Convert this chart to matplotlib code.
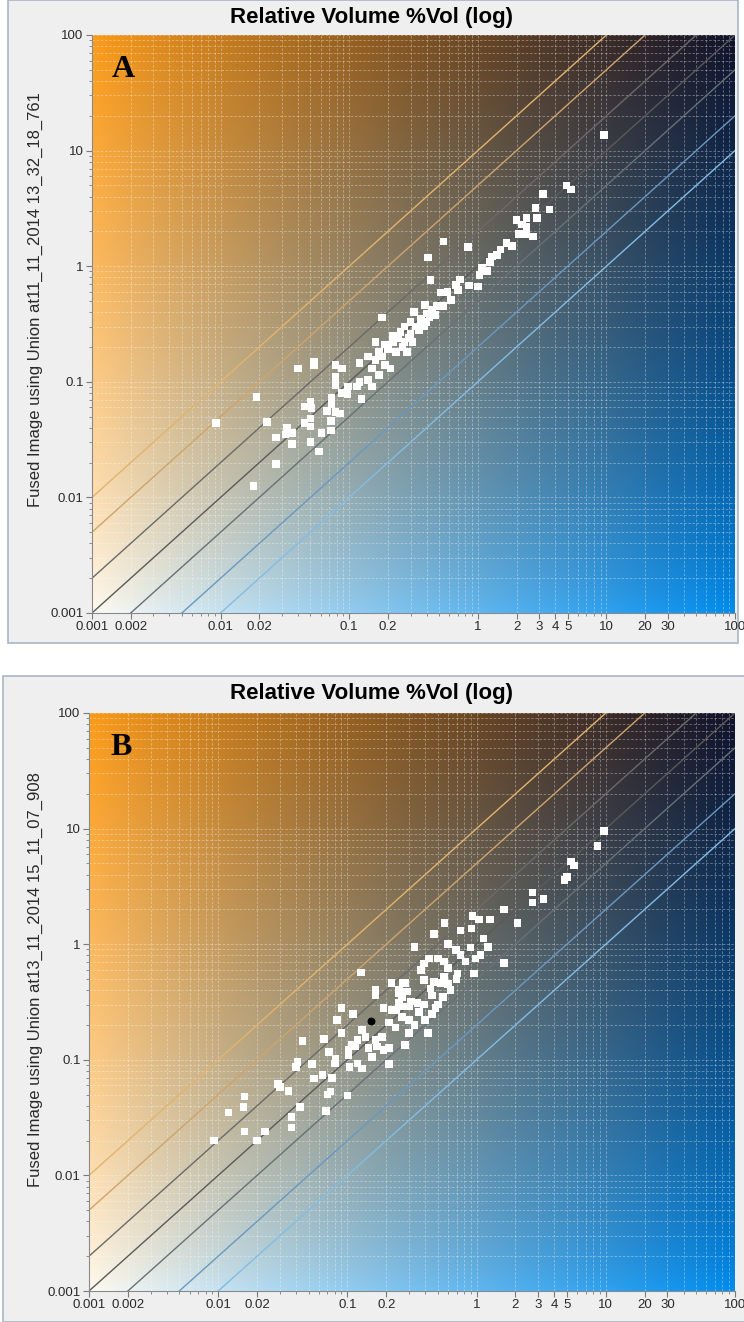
import numpy as np
import matplotlib
matplotlib.use("Agg")
import matplotlib.pyplot as plt
from matplotlib.patches import Rectangle
from matplotlib.ticker import FixedLocator, NullFormatter, FixedFormatter

plt.rcParams['font.family'] = ['Liberation Sans', 'DejaVu Sans']

# Data
ratios = [10, 5, 2, 1, 0.5, 0.2, 0.1]
ratio_colors = ['#e2b46e', '#cfa46c', '#6a6a6a', '#5a5a5a', '#687078', '#6a98c0', '#84bce4']

top_x = [0.18, 0.27, 0.24, 0.27, 0.22, 0.29, 0.16, 0.053, 0.053, 0.040, 0.078, 0.088, 0.12,
         0.14, 0.16, 0.18, 0.19, 0.15, 0.17, 0.21, 0.078, 0.078, 0.098, 0.12, 0.115, 0.14,
         0.15, 0.088, 0.097, 0.125, 0.073, 0.019, 0.050, 0.045, 0.051, 0.073, 0.067, 0.078,
         0.085, 0.050, 0.045, 0.050, 0.072, 0.0092, 0.023, 0.033, 0.036, 0.032, 0.061, 0.072,
         0.027, 0.036, 0.050, 0.058, 0.027, 0.018,
         9.6, 4.9, 5.3, 3.2, 2.8, 3.6, 2.9, 2.0, 2.4, 2.2, 2.4, 2.1, 2.4, 2.7, 0.54, 0.84, 0.41,
         1.5, 1.67, 1.85, 1.29, 1.41, 1.25, 1.08, 1.18, 1.03, 0.43, 0.73, 0.68, 0.70, 0.85, 1.0,
         0.52, 0.58, 0.62, 0.39, 0.48, 0.54, 0.32, 0.40, 0.47,
         0.30, 0.33, 0.36, 0.35, 0.40, 0.30, 0.25, 0.22, 0.26, 0.20, 0.23, 0.31, 0.38, 0.42,
         0.44, 0.28, 0.19, 0.17]
top_y = [0.36, 0.30, 0.24, 0.22, 0.22, 0.24, 0.22, 0.15, 0.14, 0.13, 0.14, 0.13, 0.145,
         0.165, 0.155, 0.165, 0.14, 0.13, 0.115, 0.13, 0.11, 0.094, 0.091, 0.10, 0.091, 0.104,
         0.091, 0.080, 0.078, 0.071, 0.072, 0.074, 0.067, 0.061, 0.059, 0.064, 0.056, 0.055,
         0.053, 0.048, 0.044, 0.041, 0.046, 0.044, 0.045, 0.040, 0.036, 0.035, 0.036, 0.038,
         0.033, 0.029, 0.030, 0.025, 0.0195, 0.0126,
         13.6, 5.0, 4.6, 4.2, 3.2, 3.1, 2.6, 2.5, 2.6, 2.3, 2.2, 1.9, 1.9, 1.8, 1.63, 1.46, 1.19,
         1.4, 1.58, 1.5, 1.21, 1.25, 1.09, 0.96, 0.91, 0.84, 0.76, 0.77, 0.69, 0.62, 0.68, 0.67,
         0.59, 0.60, 0.51, 0.46, 0.45, 0.45, 0.40, 0.39, 0.38,
         0.33, 0.30, 0.35, 0.28, 0.33, 0.26, 0.27, 0.25, 0.20, 0.19, 0.18, 0.22, 0.30, 0.36,
         0.42, 0.18, 0.21, 0.18]

bot_x = [0.128, 0.165, 0.165, 0.22, 0.25, 0.28, 0.265, 0.30, 0.24, 0.22, 0.265, 0.236, 0.21,
         0.19, 0.30, 0.090, 0.11, 0.083, 0.090, 0.045, 0.066, 0.13, 0.138, 0.12, 0.109, 0.102,
         0.115, 0.165, 0.186, 0.17, 0.146, 0.155, 0.21, 0.19, 0.28, 0.072, 0.081, 0.080, 0.102,
         0.041, 0.040, 0.053, 0.104, 0.12, 0.13, 0.21, 0.055, 0.064, 0.076, 0.029, 0.030, 0.035,
         0.074, 0.070, 0.10, 0.016, 0.0157, 0.012, 0.043, 0.068, 0.037, 0.037, 0.016, 0.023,
         0.020, 0.0093,
         9.7, 8.6, 5.4, 5.7, 5.0, 4.8, 2.7, 2.7, 3.3, 1.63, 1.27, 0.93, 1.04, 2.07, 0.565, 0.91,
         0.75, 0.47, 1.13, 0.60, 1.22, 0.33, 0.90, 0.69, 0.75, 1.07, 0.98, 0.82, 1.63, 0.39,
         0.50, 0.56, 0.43, 0.37, 0.60, 0.71, 0.95, 0.56, 0.39, 0.47, 0.44, 0.53, 0.27, 0.29,
         0.25, 0.63, 0.45, 0.31, 0.35, 0.39, 0.25, 0.265,
         0.45, 0.40, 0.33, 0.50, 0.36, 0.42, 0.30, 0.55, 0.48, 0.60, 0.70]
bot_y = [0.57, 0.40, 0.36, 0.46, 0.40, 0.46, 0.35, 0.29, 0.27, 0.27, 0.235, 0.19, 0.21,
         0.28, 0.22, 0.28, 0.25, 0.22, 0.17, 0.146, 0.152, 0.18, 0.158, 0.148, 0.134, 0.122,
         0.13, 0.148, 0.158, 0.13, 0.126, 0.106, 0.126, 0.122, 0.134, 0.117, 0.103, 0.093, 0.11,
         0.096, 0.087, 0.092, 0.087, 0.093, 0.084, 0.092, 0.069, 0.074, 0.070, 0.062, 0.058,
         0.054, 0.053, 0.050, 0.049, 0.048, 0.039, 0.035, 0.039, 0.036, 0.032, 0.026, 0.024,
         0.024, 0.020, 0.020,
         9.5, 7.1, 5.2, 4.8, 3.8, 3.6, 2.8, 2.3, 2.45, 2.0, 1.64, 1.75, 1.64, 1.52, 1.52, 1.37,
         1.31, 1.22, 1.12, 1.0, 0.95, 0.95, 0.94, 0.89, 0.81, 0.81, 0.755, 0.71, 0.69, 0.68,
         0.755, 0.71, 0.755, 0.60, 0.62, 0.56, 0.56, 0.52, 0.49, 0.47, 0.415, 0.46, 0.46, 0.39,
         0.375, 0.40, 0.36, 0.32, 0.31, 0.30, 0.31, 0.29,
         0.25, 0.22, 0.20, 0.30, 0.26, 0.17, 0.17, 0.35, 0.28, 0.45, 0.50]

marked_x = [0.153]
marked_y = [0.218]

x_tick_vals = [0.001, 0.002, 0.01, 0.02, 0.1, 0.2, 1, 2, 3, 4, 5, 10, 20, 30, 100]
x_tick_text = ['0.001', '0.002', '0.01', '0.02', '0.1', '0.2', '1', '2', '3', '4', '5',
               '10', '20', '30', '100']
y_tick_vals = [0.001, 0.01, 0.1, 1, 10, 100]
y_tick_text = ['0.001', '0.01', '0.1', '1', '10', '100']

title = 'Relative Volume %Vol (log)'
top_ylabel = 'Fused Image using Union at11_11_2014 13_32_18_761'
bot_ylabel = 'Fused Image using Union at13_11_2014 15_11_07_908'

W, H = 744, 1322
fig = plt.figure(figsize=(W / 100, H / 100), dpi=100)
fig.patch.set_facecolor('white')

# screenshot-like gray panels
fig.patches.append(Rectangle((8 / W, 1 - 643 / H), 730 / W, 643 / H, transform=fig.transFigure,
                             facecolor='#efefef', edgecolor='#a9b6c8', lw=1.2, zorder=-5))
fig.patches.append(Rectangle((3 / W, 0), 745 / W, 1 - 676 / H, transform=fig.transFigure,
                             facecolor='#efefef', edgecolor='#a9b6c8', lw=1.2, zorder=-5))

# four-corner gradient for the plot background
tl = np.array([252, 155, 25]) / 255
tr = np.array([16, 18, 42]) / 255
bl = np.array([255, 252, 244]) / 255
br = np.array([0, 142, 240]) / 255
n = 300
u = np.linspace(0, 1, n)[None, :, None] ** 0.92
v = np.linspace(1, 0, n)[:, None, None] ** 0.75
grad = (1 - u) * (1 - v) * bl + u * (1 - v) * br + (1 - u) * v * tl + u * v * tr

minor_vals = [m * 10.0 ** e for e in range(-3, 2) for m in range(2, 10)]


def draw_panel(ax, xs, ys, letter):
    ax.set_xscale('log')
    ax.set_yscale('log')
    ax.imshow(grad, extent=[0, 1, 0, 1], transform=ax.transAxes, aspect='auto',
              interpolation='bilinear', zorder=0)

    # grid
    for val in minor_vals + y_tick_vals:
        ax.axvline(val, color='white', lw=0.6, ls=(0, (3, 2)), alpha=0.38, zorder=1)
        ax.axhline(val, color='white', lw=0.6, ls=(0, (3, 2)), alpha=0.38, zorder=1)

    # ratio lines y = k * x
    line_x = np.array([0.001, 100])
    for k, c in zip(ratios, ratio_colors):
        ax.plot(line_x, k * line_x, color=c, lw=1.0, zorder=2)

    ax.scatter(xs, ys, marker='s', s=30, color='white', edgecolors='none', zorder=3)

    ax.set_xlim(0.001, 100)
    ax.set_ylim(0.001, 100)
    ax.xaxis.set_major_locator(FixedLocator(x_tick_vals))
    ax.xaxis.set_major_formatter(FixedFormatter(x_tick_text))
    ax.xaxis.set_minor_locator(FixedLocator([v for v in minor_vals if v not in x_tick_vals]))
    ax.xaxis.set_minor_formatter(NullFormatter())
    ax.yaxis.set_major_locator(FixedLocator(y_tick_vals))
    ax.yaxis.set_major_formatter(FixedFormatter(y_tick_text))
    ax.yaxis.set_minor_locator(FixedLocator(minor_vals))
    ax.yaxis.set_minor_formatter(NullFormatter())
    ax.tick_params(which='both', direction='out', color='#7a7a7a', labelsize=9.5,
                   labelcolor='#2a2a2a', pad=2)
    ax.tick_params(which='major', length=4)
    ax.tick_params(which='minor', length=2.5)
    for sp in ax.spines.values():
        sp.set_color('#8a8a8a')
        sp.set_linewidth(0.8)
    ax.spines['top'].set_visible(False)
    ax.spines['right'].set_visible(False)

    ax.text(0.049, 0.941, letter, transform=ax.transAxes, fontsize=23, fontweight='bold',
            family=['Liberation Serif', 'DejaVu Serif'], ha='center', va='center', zorder=5)


ax1 = fig.add_axes([92 / W, 1 - 613 / H, 643 / W, 578 / H])
draw_panel(ax1, top_x, top_y, 'A')
fig.text(0.5, 1 - 17 / H, title, ha='center', va='center', fontsize=16, fontweight='bold')
fig.text(35 / W, 1 - 300 / H, top_ylabel, rotation=90, ha='center', va='center',
         fontsize=12, color='#2a2a2a')

ax2 = fig.add_axes([89 / W, 1 - 1291 / H, 646 / W, 578 / H])
draw_panel(ax2, bot_x, bot_y, 'B')
ax2.scatter(marked_x, marked_y, marker='o', s=22, color='black', zorder=4)
fig.text(0.5, 1 - 693 / H, title, ha='center', va='center', fontsize=16, fontweight='bold')
fig.text(35 / W, 1 - 980 / H, bot_ylabel, rotation=90, ha='center', va='center',
         fontsize=12, color='#2a2a2a')

fig.savefig('out.png', dpi=100)
